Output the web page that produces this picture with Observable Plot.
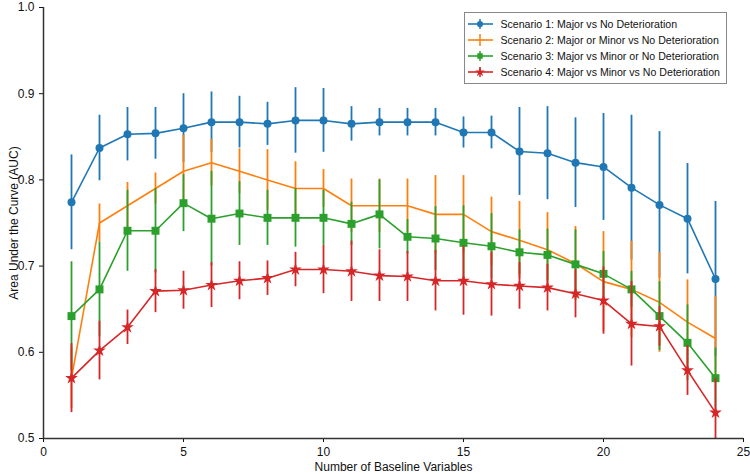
<!DOCTYPE html>
<html>
<head>
<meta charset="utf-8">
<script src="https://cdn.jsdelivr.net/npm/d3@7"></script>
<script src="https://cdn.jsdelivr.net/npm/@observablehq/plot@0.6"></script>
<style>
  body { margin: 0; background: #fff; }
  #wrap { position: relative; width: 750px; height: 474px; font-family: "Liberation Sans", Arial, sans-serif; }
  #legend { position: absolute; right: 23px; top: 12px; border: 1px solid #888; background: #fff; padding: 3px 6px 3px 0; white-space: nowrap; }
  .row { display: flex; align-items: center; height: 16px; font-size: 10.6px; color: #111; white-space: nowrap; }
  .row svg { margin-left: 3px; margin-right: 7px; flex: none; }
</style>
</head>
<body>
<div id="wrap"></div>
<script>
const xs = [1,2,3,4,5,6,7,8,9,10,11,12,13,14,15,16,17,18,19,20,21,22,23,24];
const seriesNames = [
  "Scenario 1: Major vs No Deterioration",
  "Scenario 2: Major or Minor vs No Deterioration",
  "Scenario 3: Major vs Minor or No Deterioration",
  "Scenario 4: Major vs Minor vs No Deterioration"
];
const colors = ["#1f77b4", "#ff7f0e", "#2ca02c", "#d62728"];
const symbols = ["circle", "plus", "square", "star"];

const s1 = [0.774,0.837,0.853,0.854,0.860,0.867,0.867,0.865,0.869,0.869,0.865,0.867,0.867,0.867,0.855,0.855,0.833,0.831,0.820,0.815,0.791,0.771,0.755,0.685];
const s1Err = [0.055,0.038,0.031,0.030,0.040,0.035,0.030,0.025,0.038,0.037,0.020,0.016,0.016,0.016,0.018,0.019,0.051,0.054,0.052,0.062,0.084,0.085,0.064,0.090];
const s2 = [0.570,0.750,0.770,0.790,0.810,0.820,0.810,0.800,0.790,0.790,0.770,0.770,0.770,0.760,0.760,0.740,0.730,0.719,0.703,0.682,0.673,0.658,0.635,0.616];
const s2Err = [0.035,0.022,0.027,0.018,0.042,0.027,0.026,0.035,0.031,0.022,0.031,0.031,0.031,0.045,0.045,0.040,0.045,0.043,0.043,0.058,0.056,0.058,0.049,0.049];
const s3 = [0.642,0.673,0.741,0.741,0.773,0.755,0.761,0.756,0.756,0.756,0.749,0.760,0.734,0.732,0.727,0.723,0.716,0.713,0.702,0.691,0.673,0.642,0.611,0.570];
const s3Err = [0.063,0.055,0.047,0.049,0.033,0.055,0.037,0.032,0.034,0.032,0.025,0.040,0.020,0.037,0.043,0.038,0.026,0.030,0.040,0.026,0.021,0.040,0.044,0.035];
const s4 = [0.570,0.602,0.629,0.671,0.672,0.678,0.683,0.686,0.696,0.696,0.694,0.689,0.688,0.683,0.683,0.679,0.677,0.675,0.668,0.660,0.633,0.630,0.579,0.530];
const s4Err = [0.040,0.034,0.020,0.025,0.022,0.026,0.022,0.020,0.020,0.028,0.035,0.030,0.029,0.035,0.040,0.037,0.027,0.027,0.028,0.039,0.049,0.023,0.029,0.040];

const xTicks = [0,5,10,15,20,25];
const yTicks = [0.5,0.6,0.7,0.8,0.9,1.0];

const allVals = [s1, s2, s3, s4];
const allErrs = [s1Err, s2Err, s3Err, s4Err];
const sizes = [4, 2.5, 4.5, 4];

const marks = [];
allVals.forEach((vals, si) => {
  const data = xs.map((x, i) => ({x, y: vals[i], lo: vals[i] - allErrs[si][i], hi: vals[i] + allErrs[si][i]}));
  marks.push(Plot.ruleX(data, {x: "x", y1: "lo", y2: "hi", stroke: colors[si], strokeWidth: 1.8, clip: true}));
  marks.push(Plot.line(data, {x: "x", y: "y", stroke: colors[si], strokeWidth: 1.6}));
  marks.push(Plot.dot(data, {x: "x", y: "y", symbol: symbols[si], fill: colors[si], stroke: "none", r: sizes[si]}));
});

const chart = Plot.plot({
  width: 750,
  height: 474,
  marginLeft: 43,
  marginRight: 7,
  marginTop: 7,
  marginBottom: 36,
  style: {fontFamily: "'Liberation Sans', Arial, sans-serif", fontSize: "12px", color: "#111", background: "#fff"},
  x: {domain: [0, 25], ticks: xTicks, tickFormat: d3.format("d"), label: "Number of Baseline Variables", labelAnchor: "center", labelArrow: "none", labelOffset: 32, tickSize: 4},
  y: {domain: [0.5, 1.0], ticks: yTicks, tickFormat: d3.format(".1f"), label: "Area Under the Curve (AUC)", labelAnchor: "center", labelArrow: "none", labelOffset: 34, tickSize: 4},
  marks: [
    ...marks,
    Plot.ruleX([0], {stroke: "#333", strokeWidth: 1.5}),
    Plot.ruleY([0.5], {stroke: "#333", strokeWidth: 1.5})
  ]
});

const wrap = document.getElementById("wrap");
wrap.appendChild(chart);

const legend = document.createElement("div");
legend.id = "legend";
seriesNames.forEach((name, si) => {
  const row = document.createElement("div");
  row.className = "row";
  const sym = d3.symbol(si === 0 ? d3.symbolCircle : si === 2 ? d3.symbolSquare : d3.symbolStar, 30)();
  let markHtml;
  if (si === 1) {
    markHtml = `<line x1="12" x2="12" y1="2" y2="14" stroke="${colors[si]}" stroke-width="1.5"/>`;
  } else {
    markHtml = `<line x1="12" x2="12" y1="3" y2="13" stroke="${colors[si]}" stroke-width="1.5"/><path d="${sym}" transform="translate(12,8)" fill="${colors[si]}"/>`;
  }
  row.innerHTML = `<svg width="25" height="16"><line x1="0" x2="25" y1="8" y2="8" stroke="${colors[si]}" stroke-width="1.6"/>${markHtml}</svg><span>${name}</span>`;
  legend.appendChild(row);
});
wrap.appendChild(legend);
</script>
</body>
</html>
